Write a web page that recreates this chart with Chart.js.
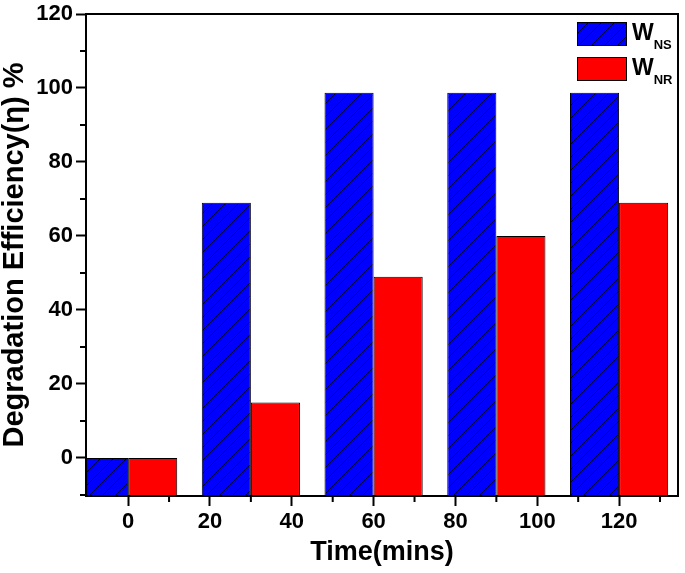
<!DOCTYPE html>
<html><head><meta charset="utf-8">
<script src="https://cdn.jsdelivr.net/npm/chart.js@4/dist/chart.umd.min.js"></script>
<style>html,body{margin:0;padding:0;background:#fff}#wrap{width:685px;height:573px;position:relative}</style>
</head><body><div id="wrap"><canvas id="c"></canvas></div>
<script>
const times = [0, 30, 60, 90, 120];
const wNS = [0, 69, 98.7, 98.7, 98.7];
const wNR = [0, 15, 49, 60, 69];
const seriesMain = ['W', 'W'];
const seriesSub = ['NS', 'NR'];
const xTickLabels = [0, 20, 40, 60, 80, 100, 120];
const xMinorTicks = [10, 30, 50, 70, 90, 110, 130];
const yTickLabels = [0, 20, 40, 60, 80, 100, 120];
const yMinorTicks = [-10, 10, 30, 50, 70, 90, 110];
const xTitle = 'Time(mins)';
const yTitle = 'Degradation Efficiency(\u03B7) %';

const X_MIN = -10.3, X_MAX = 134.4, Y_MIN = -10.3, Y_MAX = 120;
const FONT = "'Liberation Sans', Arial, sans-serif";

function hatchPattern() {
  const s = 13;
  const c = document.createElement('canvas');
  c.width = s; c.height = s;
  const g = c.getContext('2d');
  g.fillStyle = '#0000ff';
  g.fillRect(0, 0, s, s);
  g.strokeStyle = '#000033';
  g.lineWidth = 1;
  g.beginPath();
  g.moveTo(0, s); g.lineTo(s, 0);
  g.moveTo(-2, 2); g.lineTo(2, -2);
  g.moveTo(s - 2, s + 2); g.lineTo(s + 2, s - 2);
  g.stroke();
  return g.createPattern(c, 'repeat');
}
const blueFill = hatchPattern();

const deco = {
  id: 'deco',
  afterDraw(chart) {
    const {ctx, chartArea: a, scales: {x, y}} = chart;
    ctx.save();
    ctx.strokeStyle = '#000';
    ctx.lineWidth = 2;
    ctx.strokeRect(a.left, a.top, a.right - a.left, a.bottom - a.top);
    ctx.beginPath();
    xMinorTicks.forEach(v => { const px = x.getPixelForValue(v); ctx.moveTo(px, a.bottom); ctx.lineTo(px, a.bottom + 6); });
    yMinorTicks.forEach(v => { const py = y.getPixelForValue(v); ctx.moveTo(a.left, py); ctx.lineTo(a.left - 6, py); });
    ctx.stroke();
    // legend
    const sx = a.right - 101, sw = 50, sh = 24;
    chart.data.datasets.forEach((ds, i) => {
      const sy = a.top + 8 + i * 35;
      ctx.fillStyle = ds.backgroundColor;
      ctx.fillRect(sx, sy, sw, sh);
      ctx.lineWidth = 1;
      ctx.strokeStyle = '#000';
      ctx.strokeRect(sx + 0.5, sy + 0.5, sw - 1, sh - 1);
      ctx.fillStyle = '#000';
      ctx.textBaseline = 'alphabetic';
      ctx.textAlign = 'left';
      ctx.font = "bold 23px " + FONT;
      const tx = sx + sw + 5;
      ctx.fillText(seriesMain[i], tx, sy + 18);
      const w = ctx.measureText(seriesMain[i]).width;
      ctx.font = "bold 13px " + FONT;
      ctx.fillText(seriesSub[i], tx + w, sy + 27);
    });
    ctx.restore();
  }
};

new Chart(document.getElementById('c'), {
  type: 'bar',
  data: {
    datasets: [
      { label: 'WNS', data: times.map((t, i) => ({x: t, y: wNS[i]})), backgroundColor: blueFill, borderColor: '#000', borderWidth: 1, base: Y_MIN },
      { label: 'WNR', data: times.map((t, i) => ({x: t, y: wNR[i]})), backgroundColor: '#ff0000', borderColor: '#000', borderWidth: 1, base: Y_MIN }
    ]
  },
  options: {
    responsive: true,
    maintainAspectRatio: false,
    animation: false,
    categoryPercentage: 1.2,
    barPercentage: 1.0,
    layout: { padding: { left: 0, right: 7, top: 0, bottom: 0 } },
    plugins: { legend: { display: false }, tooltip: { enabled: false } },
    scales: {
      x: {
        type: 'linear', min: X_MIN, max: X_MAX, offset: false,
        afterBuildTicks: s => { s.ticks = xTickLabels.map(v => ({value: v})); },
        afterFit: s => { s.height = 77; },
        grid: { display: true, drawOnChartArea: false, offset: false, tickLength: 10, tickWidth: 2, tickColor: '#000' },
        border: { display: true, color: '#000', width: 2 },
        ticks: { color: '#000', padding: 3, maxRotation: 0, autoSkip: false, font: { family: FONT, size: 22, weight: 'bold' } },
        title: { display: true, text: xTitle, color: '#000', padding: { top: 0, bottom: 4 }, font: { family: FONT, size: 27, weight: 'bold' } }
      },
      y: {
        type: 'linear', min: Y_MIN, max: Y_MAX,
        afterBuildTicks: s => { s.ticks = yTickLabels.map(v => ({value: v})); },
        afterFit: s => { s.width = 86; },
        grid: { display: true, drawOnChartArea: false, tickLength: 10, tickWidth: 2, tickColor: '#000' },
        border: { display: true, color: '#000', width: 2 },
        ticks: { color: '#000', padding: 3, font: { family: FONT, size: 22, weight: 'bold', lineHeight: 1.0 } },
        title: { display: true, text: yTitle, color: '#000', padding: { top: 0, bottom: 0 }, font: { family: FONT, size: 29, weight: 'bold', lineHeight: 1.0 } }
      }
    }
  },
  plugins: [deco]
});
</script>
</body></html>
